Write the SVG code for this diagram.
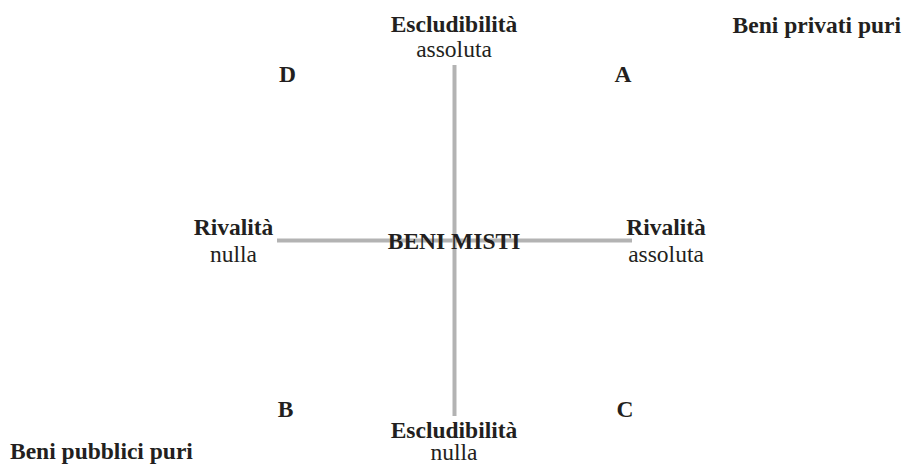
<svg xmlns="http://www.w3.org/2000/svg" width="903" height="465" viewBox="0 0 903 465">
<style>
text{font-family:"Liberation Serif","Times New Roman",serif;font-size:23.5px;fill:#231f20;text-anchor:middle}
.b{font-weight:bold}
.ax{stroke:#b3b3b3;stroke-width:4;fill:none}
</style>
<rect width="903" height="465" fill="#fff"/>
<g id="connectors">
<line class="ax" x1="454.5" y1="65" x2="454.5" y2="416"/>
<line class="ax" x1="277" y1="240.5" x2="632" y2="240.5"/>
</g>
<g id="excl-top"><text class="b" x="454" y="32">Escludibilità</text><text x="454" y="57">assoluta</text></g>
<g id="excl-bottom"><text class="b" x="454" y="438">Escludibilità</text><text x="454" y="460">nulla</text></g>
<g id="riv-left"><text class="b" x="233.5" y="235">Rivalità</text><text x="233.5" y="262">nulla</text></g>
<g id="riv-right"><text class="b" x="666" y="235">Rivalità</text><text x="666" y="262">assoluta</text></g>
<g id="center"><text class="b" x="454" y="249">BENI MISTI</text></g>
<g id="D"><text class="b" x="287.5" y="82">D</text></g>
<g id="A"><text class="b" x="623" y="82">A</text></g>
<g id="B"><text class="b" x="285.5" y="417">B</text></g>
<g id="C"><text class="b" x="625" y="417">C</text></g>
<g id="privati"><text class="b" x="901" y="33" style="text-anchor:end">Beni privati puri</text></g>
<g id="pubblici"><text class="b" x="10" y="459" style="text-anchor:start">Beni pubblici puri</text></g>
</svg>
